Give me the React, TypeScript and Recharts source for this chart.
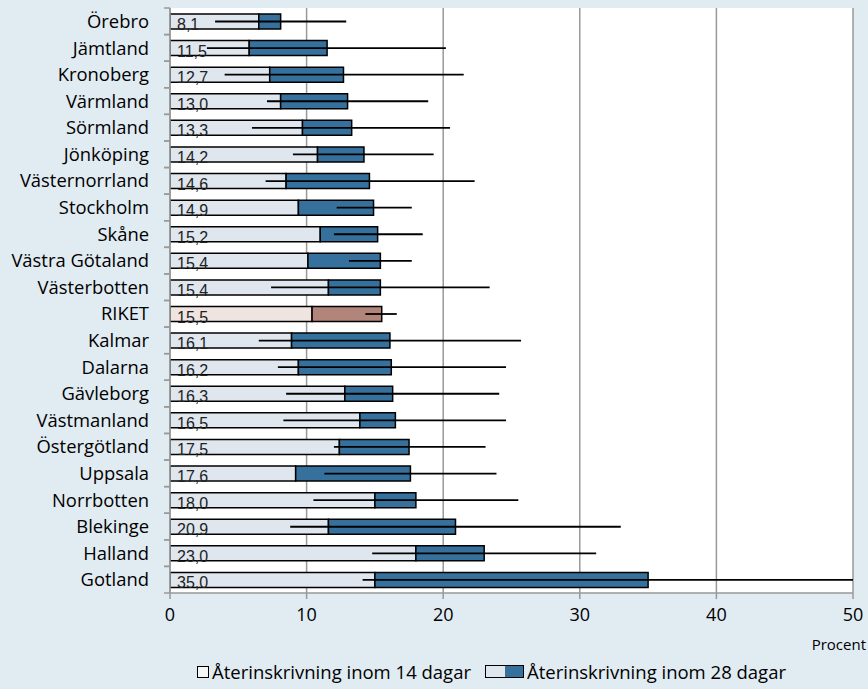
import { Bar, CartesianGrid, Cell, ComposedChart, ErrorBar, LabelList, XAxis, YAxis } from "recharts";

const regions = [
  "Örebro", "Jämtland", "Kronoberg", "Värmland", "Sörmland", "Jönköping",
  "Västernorrland", "Stockholm", "Skåne", "Västra Götaland", "Västerbotten",
  "RIKET", "Kalmar", "Dalarna", "Gävleborg", "Västmanland", "Östergötland",
  "Uppsala", "Norrbotten", "Blekinge", "Halland", "Gotland",
];
// readmission within 28 days (total bar, labelled)
const within28 = [
  8.1, 11.5, 12.7, 13.0, 13.3, 14.2, 14.6, 14.9, 15.2, 15.4, 15.4,
  15.5, 16.1, 16.2, 16.3, 16.5, 17.5, 17.6, 18.0, 20.9, 23.0, 35.0,
];
// readmission within 14 days (light part)
const within14 = [
  6.5, 5.8, 7.3, 8.1, 9.7, 10.8, 8.5, 9.4, 11.0, 10.1, 11.6,
  10.4, 8.9, 9.4, 12.8, 13.9, 12.4, 9.2, 15.0, 11.6, 18.0, 15.0,
];
// confidence interval for the 28 day value
const ciLow = [
  3.3, 2.7, 4.0, 7.1, 6.0, 9.0, 7.0, 12.2, 12.0, 13.1, 7.4,
  14.3, 6.5, 7.9, 8.5, 8.3, 12.0, 11.3, 10.5, 8.8, 14.8, 14.1,
];
const ciHigh = [
  12.9, 20.2, 21.5, 18.9, 20.5, 19.3, 22.3, 17.7, 18.5, 17.7, 23.4,
  16.6, 25.7, 24.6, 24.1, 24.6, 23.1, 23.9, 25.5, 33.0, 31.2, 50.0,
];
const xTicks = [0, 10, 20, 30, 40, 50];

const COLORS = {
  bg: "#e1ebf2",
  light: "#dfe6ee",
  dark: "#36719d",
  rikeLight: "#efe4e0",
  rikeDark: "#b2857a",
  grid: "#999999",
};

const FONT = "'Open Sans', Lato, sans-serif";

const data = regions.map((name, i) => ({
  name,
  total: within28[i],
  a: within14[i],
  b: Math.round((within28[i] - within14[i]) * 10) / 10,
  err: [within28[i] - ciLow[i], ciHigh[i] - within28[i]],
}));

function RegionTick(props: any) {
  const { x, y, payload } = props;
  const half = payload?.offset ?? 0;
  return (
    <g>
      <text x={x - 21} y={y} dy="0.36em" textAnchor="end" fontSize={18.4} fontFamily={FONT} fill="#000">
        {payload.value}
      </text>
      <line x1={x - 6} x2={x} y1={y - half} y2={y - half} stroke={COLORS.grid} strokeWidth={1.5} />
      <line x1={x - 6} x2={x} y1={y + half} y2={y + half} stroke={COLORS.grid} strokeWidth={1.5} />
    </g>
  );
}

function ValueLabel(props: any) {
  const { x, y, height, value } = props;
  return (
    <text x={x + 7} y={y + height + 1} fontSize={16} fontFamily="'Liberation Sans', Arial, sans-serif" fill="#222">
      {Number(value).toFixed(1).replace(".", ",")}
    </text>
  );
}

export default function App() {
  return (
    <div style={{ position: "relative", width: 868, height: 689, background: COLORS.bg, fontFamily: FONT }}>
      <style>{"body{margin:0}"}</style>
      <ComposedChart
        width={868}
        height={689}
        data={data}
        layout="vertical"
        margin={{ top: 8, right: 15, bottom: 0, left: 8 }}
        barSize={15}
      >
        <CartesianGrid horizontal={false} fill="#ffffff" stroke={COLORS.grid} strokeWidth={1.5} />
        <XAxis
          type="number"
          domain={[0, 50]}
          ticks={xTicks}
          allowDataOverflow
          height={96}
          tickSize={6}
          tickMargin={9}
          stroke={COLORS.grid}
          axisLine={{ stroke: COLORS.grid, strokeWidth: 1.5 }}
          tickLine={{ stroke: COLORS.grid, strokeWidth: 1.5 }}
          tick={{ fontSize: 18, fontFamily: FONT, fill: "#000" }}
        />
        <YAxis
          type="category"
          dataKey="name"
          width={162}
          interval={0}
          tickLine={false}
          tickSize={0}
          tickMargin={0}
          axisLine={{ stroke: COLORS.grid, strokeWidth: 1.5 }}
          tick={<RegionTick />}
        />
        <Bar dataKey="a" stackId="s" stroke="#000" strokeWidth={1.5} isAnimationActive={false}>
          {data.map((d, i) => (
            <Cell key={i} fill={d.name === "RIKET" ? COLORS.rikeLight : COLORS.light} />
          ))}
          <LabelList dataKey="total" content={<ValueLabel />} />
        </Bar>
        <Bar dataKey="b" stackId="s" stroke="#000" strokeWidth={1.5} isAnimationActive={false}>
          {data.map((d, i) => (
            <Cell key={i} fill={d.name === "RIKET" ? COLORS.rikeDark : COLORS.dark} />
          ))}
          <ErrorBar dataKey="err" direction="x" width={0} stroke="#000" strokeWidth={1.8} />
        </Bar>
      </ComposedChart>

      <div style={{ position: "absolute", right: 2, top: 634, fontSize: 15, color: "#000" }}>Procent</div>

      <div
        style={{
          position: "absolute",
          left: 197,
          top: 659,
          display: "flex",
          alignItems: "center",
          fontSize: 18.5,
          color: "#000",
          whiteSpace: "nowrap",
        }}
      >
        <span style={{ width: 10, height: 10, border: "1.5px solid #000", background: "#f4f6f8", marginRight: 3 }} />
        <span style={{ marginRight: 14 }}>Återinskrivning inom 14 dagar</span>
        <span style={{ display: "flex", border: "1.5px solid #000", marginRight: 3 }}>
          <span style={{ width: 19, height: 11, background: COLORS.light }} />
          <span style={{ width: 18, height: 11, background: COLORS.dark }} />
        </span>
        <span>Återinskrivning inom 28 dagar</span>
      </div>
    </div>
  );
}
